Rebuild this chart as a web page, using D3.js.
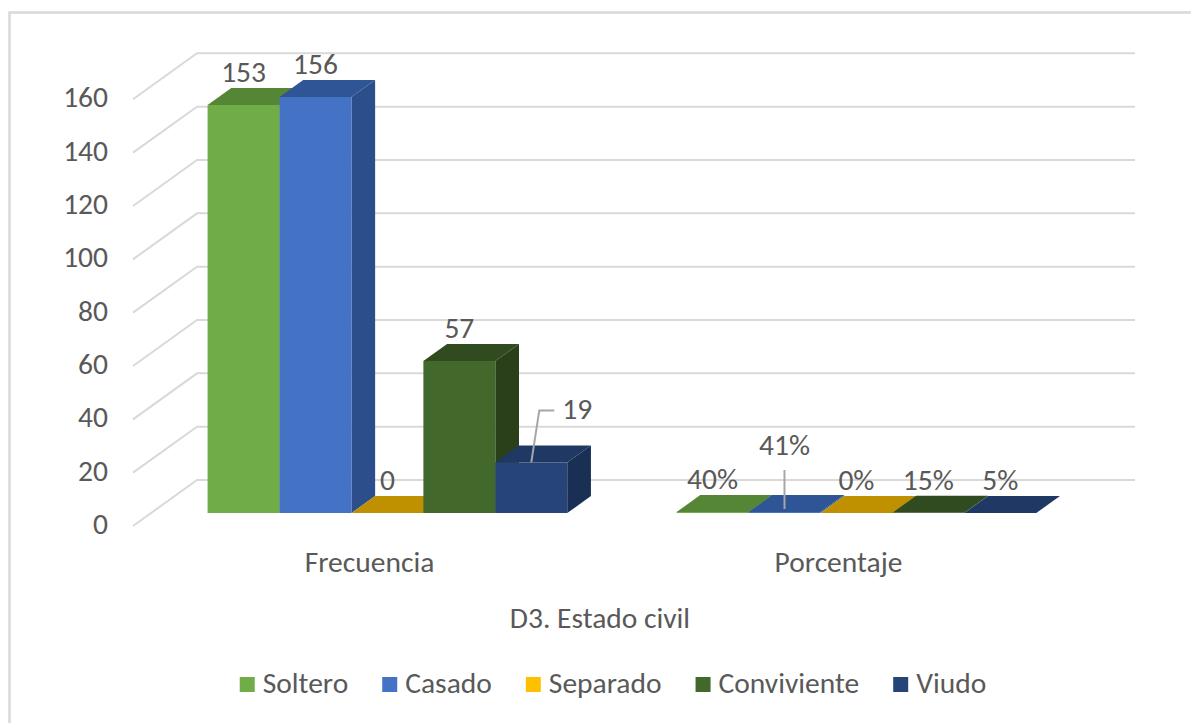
<!DOCTYPE html>
<html>
<head>
<meta charset="utf-8">
<script src="https://cdn.jsdelivr.net/npm/d3@7"></script>
<style>
  body { margin: 0; background: #fff; }
  text { font-family: Carlito, Calibri, Lato, sans-serif; fill: #595959; }
</style>
</head>
<body>
<div id="graph"></div>
<script>
// data
var categories = ["Frecuencia", "Porcentaje"];
var series = ["Soltero", "Casado", "Separado", "Conviviente", "Viudo"];
var frecuencia = [153, 156, 0, 57, 19];
var porcentaje = [0.40, 0.41, 0, 0.15, 0.05];
var yTicks = [0, 20, 40, 60, 80, 100, 120, 140, 160];
var axisTitle = "D3. Estado civil";

// colours: front, top, side
var colors = {
  Soltero:     ["#70AD47", "#558636", "#4E7A31"],
  Casado:      ["#4472C4", "#2F5597", "#2C4E8A"],
  Separado:    ["#FFC000", "#BF9000", "#A67D00"],
  Conviviente: ["#43682B", "#2F4B1F", "#29401A"],
  Viudo:       ["#264478", "#1F3864", "#1A2F54"]
};

var FS = 29.5;
var W = 1191, H = 723;
var svg = d3.select("#graph").append("svg")
  .attr("width", W).attr("height", H);

// outer frame (cropped on right and bottom)
svg.append("rect")
  .attr("x", 9.5).attr("y", 12.5)
  .attr("width", 1200).attr("height", 740)
  .attr("fill", "none").attr("stroke", "#d9d9d9").attr("stroke-width", 2.5);

// 3d projection: depth goes right and up
var DX = 64, DY = 46, f1 = 0.28, f2 = 0.65;
var y = d3.scaleLinear().domain([0, 160]).range([526, 99.3]);
var x = d3.scaleBand().domain(categories).range([133, 1071]);
var xs = d3.scaleBand().domain(series).range([2, x.bandwidth() + 2]).paddingOuter(0.76);

function P(px, v, d) { return [px + d * DX, y(v) - d * DY]; }

// gridlines: left wall diagonal + back wall
var grid = svg.append("g").attr("stroke", "#d9d9d9").attr("stroke-width", 2).attr("fill", "none");
yTicks.forEach(function(t) {
  var a = P(x.range()[0], t, 0), b = P(x.range()[0], t, 1), c = P(x.range()[1], t, 1);
  grid.append("path").attr("d", d3.line()([a, b, c]));
});

// y labels
svg.append("g").selectAll("text").data(yTicks).join("text")
  .attr("x", 108).attr("y", function(d) { return y(d) + 1; })
  .attr("text-anchor", "end").attr("dominant-baseline", "middle")
  .attr("font-size", FS)
  .text(function(d) { return d; });

// bars
var rows = [];
categories.forEach(function(c, ci) {
  var vals = ci === 0 ? frecuencia : porcentaje;
  series.forEach(function(s, si) { rows.push({cat: c, s: s, v: vals[si]}); });
});

var bars = svg.append("g");
rows.forEach(function(r) {
  var x0 = x(r.cat) + xs(r.s), x1 = x0 + xs.bandwidth(), v = r.v;
  var col = colors[r.s];
  var side = [P(x1, 0, f1), P(x1, 0, f2), P(x1, v, f2), P(x1, v, f1)];
  var top = [P(x0, v, f1), P(x1, v, f1), P(x1, v, f2), P(x0, v, f2)];
  var front = [P(x0, 0, f1), P(x1, 0, f1), P(x1, v, f1), P(x0, v, f1)];
  bars.append("path").attr("d", d3.line()(side) + "Z").attr("fill", col[2]);
  bars.append("path").attr("d", d3.line()(top) + "Z").attr("fill", col[1]);
  bars.append("path").attr("d", d3.line()(front) + "Z").attr("fill", col[0]);
});

// data labels
var fmtN = d3.format("d"), fmtP = d3.format(".0%");
var nudges = {"Frecuencia|Viudo": [46, -20], "Porcentaje|Casado": [0, -34]};
var labels = svg.append("g");
rows.forEach(function(r) {
  var cx = x(r.cat) + xs(r.s) + xs.bandwidth() / 2 + f1 * DX;
  var by = y(r.v) - f2 * DY - 6;
  var n = nudges[r.cat + "|" + r.s] || [0, 0];
  labels.append("text")
    .attr("x", cx + n[0]).attr("y", by + n[1])
    .attr("text-anchor", "middle").attr("font-size", FS)
    .text(r.cat === "Frecuencia" ? fmtN(r.v) : fmtP(r.v));
  if (n[0] !== 0) {
    var sy = y(r.v) - f1 * DY;
    labels.append("path")
      .attr("d", d3.line()([[cx, sy], [cx + n[0] - 38, by + n[1] - 9], [cx + n[0] - 23, by + n[1] - 9]]))
      .attr("fill", "none").attr("stroke", "#a6a6a6").attr("stroke-width", 2);
  } else if (n[1] !== 0) {
    labels.append("path")
      .attr("d", d3.line()([[cx, y(r.v) - f1 * DY - 3], [cx, by + n[1] + 15]]))
      .attr("fill", "none").attr("stroke", "#a6a6a6").attr("stroke-width", 2);
  }
});

// category labels
svg.append("g").selectAll("text").data(categories).join("text")
  .attr("x", function(d) { return x(d) + x.bandwidth() / 2 + 2; })
  .attr("y", 572).attr("text-anchor", "middle").attr("font-size", FS)
  .text(function(d) { return d; });

svg.append("text").attr("x", 600).attr("y", 628)
  .attr("text-anchor", "middle").attr("font-size", FS).text(axisTitle);

// legend
var leg = svg.append("g");
var items = leg.selectAll("g").data(series).join("g");
items.append("rect").attr("width", 15).attr("height", 15).attr("y", -8)
  .attr("fill", function(d) { return colors[d][0]; });
items.append("text").attr("x", 23).attr("y", 1).attr("dominant-baseline", "middle")
  .attr("font-size", FS).text(function(d) { return d; });
var pos = 0;
items.each(function() {
  var g = d3.select(this);
  g.attr("transform", "translate(" + pos + ",0)");
  pos += 23 + g.select("text").node().getComputedTextLength() + 34;
});
pos -= 34;
leg.attr("transform", "translate(" + (613 - pos / 2) + ",685)");
</script>
</body>
</html>
